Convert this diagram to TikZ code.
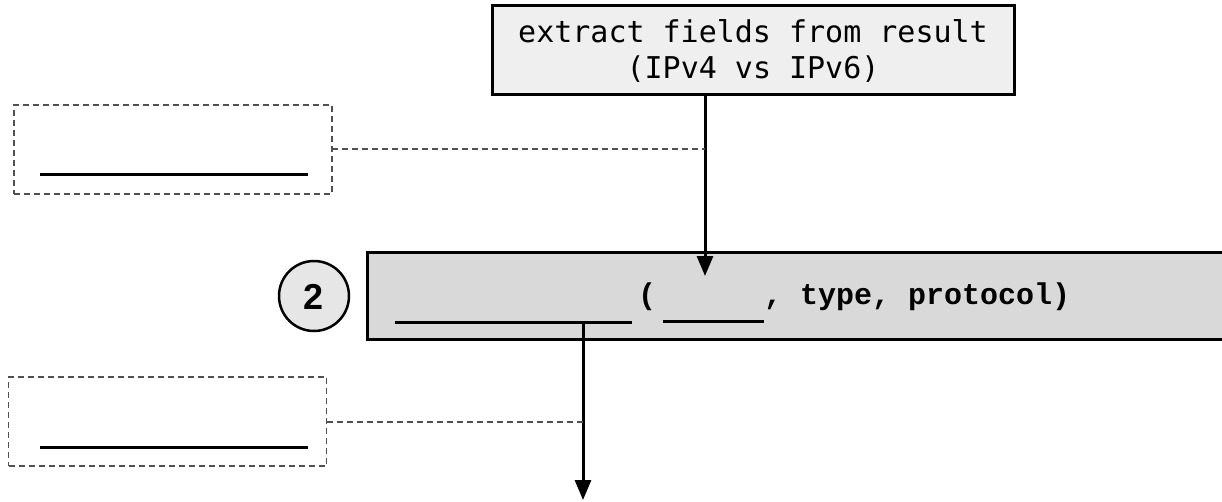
\documentclass[tikz,border=0pt]{standalone}
\usepackage{fontspec}
\setmainfont{Liberation Sans}
\newfontfamily\topmono{DejaVu Sans Mono}
\newfontfamily\boldmono{Liberation Mono}
\usetikzlibrary{arrows.meta}
\definecolor{topfill}{HTML}{EFEFEF}
\definecolor{mainfill}{HTML}{D9D9D9}
\definecolor{circfill}{HTML}{E6E6E6}
\definecolor{dashgray}{HTML}{505050}
\tikzset{
  boxstyle/.style={draw=black, line width=3pt, inner sep=0pt, outer sep=0pt},
  dashbox/.style={draw=dashgray, line width=1.3pt, dash pattern=on 6pt off 4pt, inner sep=0pt, outer sep=0pt, minimum width=318pt, minimum height=89pt},
  dashline/.style={draw=dashgray, line width=1.3pt, dash pattern=on 6pt off 4pt},
  blank/.style={draw=black, line width=3pt},
  arr/.style={draw=black, line width=3pt, -{Triangle[length=20pt,width=16pt]}},
  toptext/.style={anchor=base, inner sep=0pt, font=\topmono\fontsize{30}{36}\selectfont},
  maintext/.style={anchor=base west, inner sep=0pt, font=\boldmono\bfseries\fontsize{30}{36}\selectfont},
}
\begin{document}
\begin{tikzpicture}[x=1pt,y=-1pt]
\useasboundingbox (0,0) rectangle (1222,501);
% top box
\node[boxstyle, fill=topfill, minimum width=522pt, minimum height=89pt] (top) at (753,49.5) {};
\node[toptext] (t1) at (753,42) {extract fields from result};
\node[toptext] (t2) at (753,78) {(IPv4 vs IPv6)};
% main box
\node[boxstyle, fill=mainfill, minimum width=880pt, minimum height=87pt] (main) at (807,295.5) {};
\node[maintext] (paren) at (638,304) {(};
\node[maintext] (rest) at (764,304) {, type, protocol)};
\coordinate (b1w) at (395,322);
\coordinate (b1e) at (632,322);
\coordinate (b2w) at (663,321);
\coordinate (b2e) at (764,321);
\draw[blank] (b1w) -- (b1e);
\draw[blank] (b2w) -- (b2e);
% step number
\node[circle, draw=black, line width=2.5pt, fill=circfill, minimum size=70pt, inner sep=0pt] (num) at (314,296) {};
\node[anchor=base, inner sep=0pt, font=\bfseries\fontsize{36}{36}\selectfont] (numtxt) at (314,309) {2};
% dashed boxes
\node[dashbox] (d1) at (173,149.5) {};
\coordinate (d1bw) at (40,174);
\coordinate (d1be) at (308,174);
\draw[blank] (d1bw) -- (d1be);
\node[dashbox] (d2) at (167.5,421.5) {};
\coordinate (d2bw) at (40,447);
\coordinate (d2be) at (308,447);
\draw[blank] (d2bw) -- (d2be);
% arrows
\coordinate (a1top) at (705,94);
\coordinate (a1tip) at (705,276);
\draw[arr] (a1top) -- (a1tip);
\coordinate (a2top) at (583,322);
\coordinate (a2tip) at (583,500);
\draw[arr] (a2top) -- (a2tip);
% dashed connectors
\coordinate (j1) at (705,149);
\coordinate (j2) at (583,422);
\draw[dashline] (d1.east |- j1) -- (j1);
\draw[dashline] (d2.east |- j2) -- (j2);
\end{tikzpicture}
\end{document}
